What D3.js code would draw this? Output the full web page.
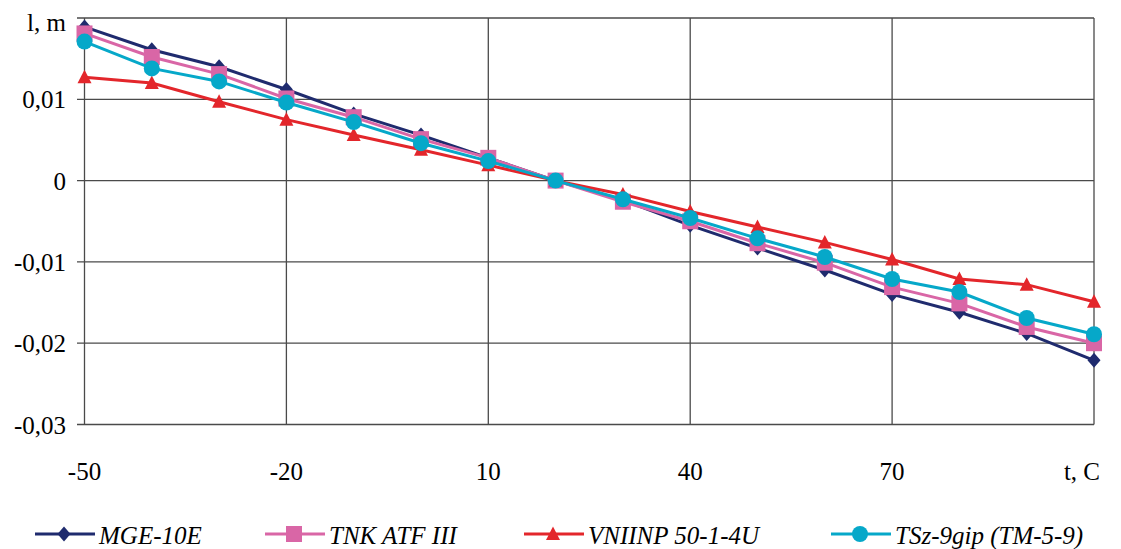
<!DOCTYPE html>
<html>
<head>
<meta charset="utf-8">
<script src="https://cdn.jsdelivr.net/npm/d3@7"></script>
<style>
  body { margin: 0; background: #fff; }
</style>
</head>
<body>
<div id="chart"></div>
<script>
// Data
const temps = [-50, -40, -30, -20, -10, 0, 10, 20, 30, 40, 50, 60, 70, 80, 90, 100];
const mge   = [0.0189, 0.0161, 0.0140, 0.0112, 0.0082, 0.0056, 0.0028, 0, -0.0024, -0.0055, -0.0083, -0.0110, -0.0140, -0.0162, -0.0188, -0.0221];
const tnk   = [0.0181, 0.0152, 0.0131, 0.0101, 0.0078, 0.0051, 0.0028, 0, -0.0026, -0.0050, -0.0077, -0.0101, -0.0131, -0.0151, -0.0180, -0.0200];
const vniinp = [0.0127, 0.0120, 0.0097, 0.0075, 0.0056, 0.0038, 0.0019, 0, -0.0017, -0.0038, -0.0057, -0.0076, -0.0097, -0.0121, -0.0128, -0.0149];
const tsz   = [0.0171, 0.0138, 0.0122, 0.0096, 0.0072, 0.0046, 0.0024, 0, -0.0023, -0.0046, -0.0071, -0.0094, -0.0121, -0.0137, -0.0169, -0.0189];
const seriesNames = ["MGE-10E", "TNK ATF III", "VNIINP 50-1-4U", "TSz-9gip (TM-5-9)"];
const xTicks = [-50, -20, 10, 40, 70, 100];
const yTicks = [0.01, 0, -0.01, -0.02, -0.03];

const width = 1121, height = 549;
const serif = '"Liberation Serif"';
const colors = ["#1f2b6e", "#d966a6", "#e3262b", "#06a8c9"];
const shapes = ["diamond", "square", "triangle", "circle"];
const series = [mge, tnk, vniinp, tsz];

const svg = d3.select("#chart").append("svg")
  .attr("width", width)
  .attr("height", height);

const x = d3.scaleLinear().domain([-50, 100]).range([84.5, 1094]);
const y = d3.scaleLinear().domain([-0.03, 0.02]).range([424.5, 18]);

// grid
const grid = svg.append("g").attr("stroke", "#4a4a4a").attr("stroke-width", 1.3);
grid.selectAll("line.h")
  .data(d3.range(-0.03, 0.0201, 0.01))
  .enter().append("line")
  .attr("x1", 77).attr("x2", x(100))
  .attr("y1", d => y(d)).attr("y2", d => y(d));
grid.selectAll("line.v")
  .data(xTicks)
  .enter().append("line")
  .attr("x1", d => x(d)).attr("x2", d => x(d))
  .attr("y1", y(0.02)).attr("y2", y(-0.03));

// axis labels
const fmt = v => (Math.abs(v) < 1e-9 ? "0" : d3.format(".2f")(v).replace(".", ",").replace("−", "-"));
svg.selectAll("text.ytick")
  .data(yTicks)
  .enter().append("text")
  .attr("x", 66)
  .attr("y", d => y(d) + 9)
  .attr("text-anchor", "end")
  .style("font-family", serif)
  .style("font-size", "25px")
  .text(d => fmt(d));
svg.append("text").attr("x", 66).attr("y", 31).attr("text-anchor", "end")
  .style("font-family", serif)
  .style("font-size", "25px").text("l, m");

svg.selectAll("text.xtick")
  .data(xTicks.slice(0, -1))
  .enter().append("text")
  .attr("x", d => x(d))
  .attr("y", 480)
  .attr("text-anchor", "middle")
  .style("font-family", serif)
  .style("font-size", "25px")
  .text(d => d);
svg.append("text").attr("x", 1100).attr("y", 480).attr("text-anchor", "end")
  .style("font-family", serif)
  .style("font-size", "25px").text("t, C");

// marker paths
function marker(shape) {
  if (shape === "diamond") return "M0,-7.5L6.5,0L0,7.5L-6.5,0Z";
  if (shape === "square") return "M-8,-8H8V8H-8Z";
  if (shape === "triangle") return "M0,-7.5L7,6L-7,6Z";
  return d3.symbol(d3.symbolCircle, Math.PI * 64)();
}

const line = d3.line().x((d, i) => x(temps[i])).y(d => y(d));

series.forEach((vals, k) => {
  const g = svg.append("g");
  g.append("path")
    .attr("d", line(vals))
    .attr("fill", "none")
    .attr("stroke", colors[k])
    .attr("stroke-width", 3);
  g.selectAll("path.m")
    .data(vals)
    .enter().append("path")
    .attr("transform", (d, i) => `translate(${x(temps[i])},${y(d)})`)
    .attr("d", marker(shapes[k]))
    .attr("fill", colors[k]);
});

// legend
const legendX = [35, 265, 524, 831];
const legend = svg.selectAll("g.leg")
  .data(seriesNames)
  .enter().append("g")
  .attr("transform", (d, i) => `translate(${legendX[i]},534)`);
legend.append("line")
  .attr("x1", 0).attr("x2", 60)
  .attr("stroke", (d, i) => colors[i])
  .attr("stroke-width", 3);
legend.append("path")
  .attr("transform", "translate(29,0)")
  .attr("d", (d, i) => marker(shapes[i]))
  .attr("fill", (d, i) => colors[i]);
legend.append("text")
  .attr("x", 64).attr("y", 10)
  .style("font-family", serif)
  .style("font-size", "25px")
  .style("font-style", "italic")
  .text(d => d);
</script>
</body>
</html>
